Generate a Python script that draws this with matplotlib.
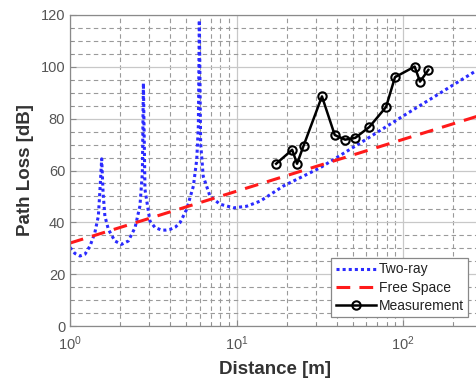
import matplotlib
matplotlib.use("Agg")
import matplotlib.pyplot as plt
from matplotlib.ticker import MultipleLocator, LogLocator, NullFormatter

plt.rcParams['font.family'] = ['Liberation Sans', 'DejaVu Sans']
plt.rcParams['mathtext.fontset'] = 'custom'
plt.rcParams['mathtext.rm'] = 'Liberation Sans'
plt.rcParams['mathtext.it'] = 'Liberation Sans'

# Two-ray model
tworay_d = [1.0, 1.07, 1.148, 1.23, 1.32, 1.41, 1.48, 1.51, 1.55, 1.58, 1.62, 1.70, 1.86,
            2.04, 2.24, 2.46, 2.63, 2.72, 2.76, 2.82, 3.02, 3.24, 3.55, 3.75, 4.0, 4.3,
            4.58, 5.02, 5.51, 5.77, 5.90, 5.98, 6.09, 6.31, 6.93, 7.95, 9.6, 11.5,
            13.9, 19.1, 31.7, 40, 60, 100, 150, 200, 275]
tworay_pl = [30.3, 28.0, 27.0, 27.7, 30.9, 36.0, 42.4, 51.5, 64.5, 51.5, 42.4, 37.3, 32.8,
             31.5, 32.8, 38.0, 46.3, 59.0, 93.7, 52.7, 40.5, 38.0, 37.0, 37.0, 37.3, 38.2,
             39.9, 45.0, 54.0, 64.2, 77.0, 118.0, 70.6, 57.8, 50.1, 47.0, 45.6, 46.2,
             48.2, 54.0, 61.0, 65.0, 72.0, 81.0, 88.0, 93.0, 98.5]

# Free space model
fs_d = [1.0, 1000.0]
fs_pl = [32.0, 92.0]

# Measurement
meas_d = [17.3, 21.6, 23.1, 25.3, 32.6, 38.9, 44.9, 51.7, 62.8, 79.1, 89.5, 117.5, 126.5, 142.0]
meas_pl = [62.6, 68.0, 62.6, 69.6, 88.6, 73.7, 71.9, 72.6, 76.8, 84.5, 96.0, 100.1, 94.3, 98.8]

W, H = 476, 381
fig = plt.figure(figsize=(W / 100, H / 100), dpi=100)
left, right = 70, 476
top, bottom = 15, 326
decade = 166.5
ax = fig.add_axes([left / W, 1 - bottom / H, (right - left) / W, (bottom - top) / H])

ax.plot(tworay_d, tworay_pl, linestyle=(0, (1, 1)), color='#2b2bff', lw=2.2, label='Two-ray')
ax.plot(fs_d, fs_pl, linestyle=(0, (4.5, 3)), color='#ff1a1a', lw=2.2, label='Free Space')
ax.plot(meas_d, meas_pl, '-o', color='black', lw=1.8, ms=6, mfc='none', mew=1.5,
        label='Measurement')

ax.set_xscale('log')
ax.set_xlim(1, 10 ** ((right - left) / decade))
ax.set_ylim(0, 120)
ax.yaxis.set_major_locator(MultipleLocator(20))
ax.yaxis.set_minor_locator(MultipleLocator(5))
ax.xaxis.set_major_locator(LogLocator(base=10, numticks=10))
ax.xaxis.set_minor_locator(LogLocator(base=10, subs=range(2, 10), numticks=20))
ax.xaxis.set_minor_formatter(NullFormatter())

ax.grid(True, which='major', color='#c8c8c8', lw=0.9, ls='-')
ax.grid(True, which='minor', color='#9a9a9a', lw=0.8, ls=(0, (4, 3)))
ax.set_axisbelow(True)

for s in ax.spines.values():
    s.set_color('#8a8a8a')
    s.set_linewidth(0.9)
ax.spines['right'].set_visible(False)
ax.tick_params(which='both', direction='in', colors='#8a8a8a', labelcolor='#555555',
               labelsize=10.5, top=False, right=False)
ax.tick_params(which='major', length=4)
ax.tick_params(which='minor', length=2.5)
ax.tick_params(axis='x', pad=6)

ax.set_xlabel('Distance [m]', fontsize=13.5, fontweight='bold', color='#333333')
ax.set_ylabel('Path Loss [dB]', fontsize=13.5, fontweight='bold', color='#333333')
ax.xaxis.set_label_coords((275 - left) / (right - left), (bottom - 361) / (bottom - top))
ax.yaxis.set_label_coords((34 - left) / (right - left), (bottom - 170) / (bottom - top))

leg = ax.legend(loc='lower right', bbox_to_anchor=(468 / W, 1 - 317 / H),
                bbox_transform=fig.transFigure, fontsize=10, frameon=True,
                fancybox=False, edgecolor='#888888', framealpha=1,
                handlelength=2.9, handletextpad=0.2, borderpad=0.3, labelspacing=0.3,
                borderaxespad=0)
leg.get_frame().set_linewidth(0.9)
for t in leg.get_texts():
    t.set_color('#222222')

fig.savefig('out.png', dpi=100)
